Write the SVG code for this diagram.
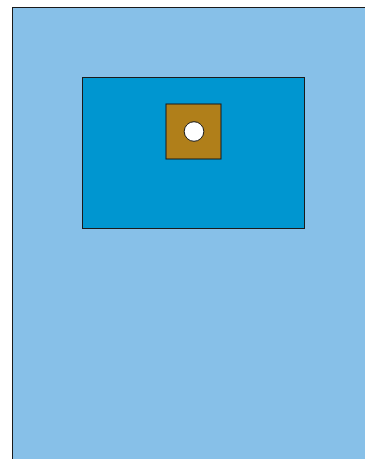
<svg xmlns="http://www.w3.org/2000/svg" width="365" height="459" viewBox="0 0 365 459">
<style>
.s{stroke:#1a1a1a;stroke-width:1}
</style>
<rect width="365" height="459" fill="#ffffff"/>
<g id="outer"><rect class="s" x="12.5" y="7.5" width="360" height="460" fill="#87C0E8"/></g>
<g id="inner"><rect class="s" x="82.5" y="77.5" width="222" height="151" fill="#0096D0"/></g>
<g id="square"><rect class="s" x="166" y="104" width="55" height="55" fill="#B07F1A"/></g>
<g id="hole"><circle class="s" cx="194" cy="131.5" r="9.8" fill="#ffffff" stroke-width="1.5"/></g>
<g id="connectors"></g>
</svg>
